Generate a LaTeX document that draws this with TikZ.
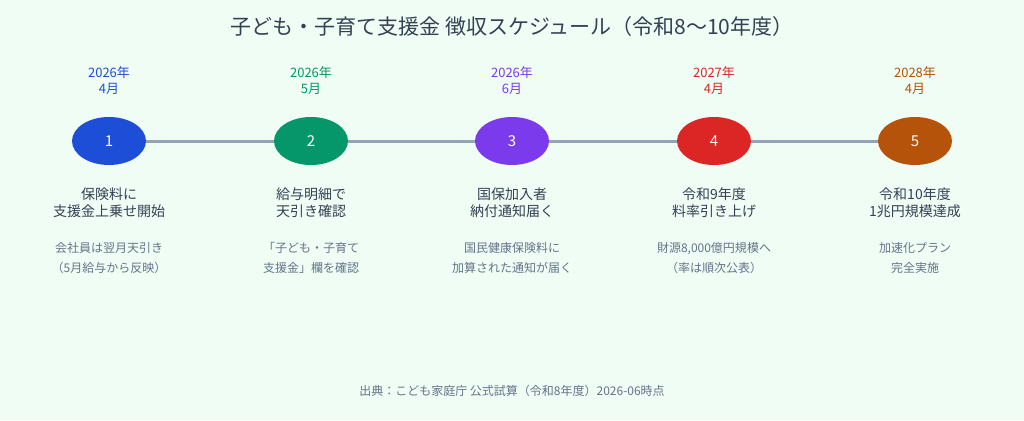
\documentclass[tikz,border=0pt]{standalone}
\usepackage{fontspec}
\setmainfont{Noto Sans CJK JP}
\definecolor{bg}{HTML}{F0FDF4}
\definecolor{ink}{HTML}{334155}
\definecolor{note}{HTML}{64748B}
\definecolor{rail}{HTML}{94A3B8}
\definecolor{cA}{HTML}{1D4ED8}
\definecolor{cB}{HTML}{059669}
\definecolor{cC}{HTML}{7C3AED}
\definecolor{cD}{HTML}{DC2626}
\definecolor{cE}{HTML}{B45309}
\usetikzlibrary{shapes.geometric}
\tikzset{
  stage/.style={ellipse, minimum width=74pt, minimum height=48pt, inner sep=0pt, text=white, font=\fontsize{15}{16}\selectfont},
  when/.style={align=center, font=\fontsize{13}{16}\selectfont},
  what/.style={align=center, text=ink, font=\fontsize{14}{17}\selectfont},
  memo/.style={align=center, text=note, font=\fontsize{12}{20}\selectfont}}
\begin{document}
\begin{tikzpicture}[x=1pt, y=-1pt]
\fill[bg] (0,0) rectangle (1024,420);
\node[text=ink, font=\fontsize{21}{24}\selectfont] (title) at (512,27) {子ども・子育て支援金 徴収スケジュール（令和8〜10年度）};
\coordinate (railL) at (109,141);
\coordinate (railR) at (915,141);
\draw[rail, line width=3pt] (railL) -- (railR);
\foreach \i/\x/\c/\yr/\mo/\hd/\nt in {
  1/109/cA/2026/4/{保険料に\\支援金上乗せ開始}/{会社員は翌月天引き\\（5月給与から反映）},
  2/311/cB/2026/5/{給与明細で\\天引き確認}/{「子ども・子育て\\支援金」欄を確認},
  3/512/cC/2026/6/{国保加入者\\納付通知届く}/{国民健康保険料に\\加算された通知が届く},
  4/714/cD/2027/4/{令和9年度\\料率引き上げ}/{財源8,000億円規模へ\\（率は順次公表）},
  5/915/cE/2028/4/{令和10年度\\1兆円規模達成}/{加速化プラン\\完全実施}} {
  \node[stage, fill=\c] (s\i) at (\x,141) {\i};
  \node[when, text=\c] (d\i) at (\x,81) {\yr 年\\\mo 月};
  \node[what] (h\i) at (\x,203) {\hd};
  \node[memo] (n\i) at (\x,258) {\nt};
}
\node[text=note, font=\fontsize{12}{13}\selectfont] (src) at (512,391) {出典：こども家庭庁 公式試算（令和8年度）2026-06時点};
\end{tikzpicture}
\end{document}
